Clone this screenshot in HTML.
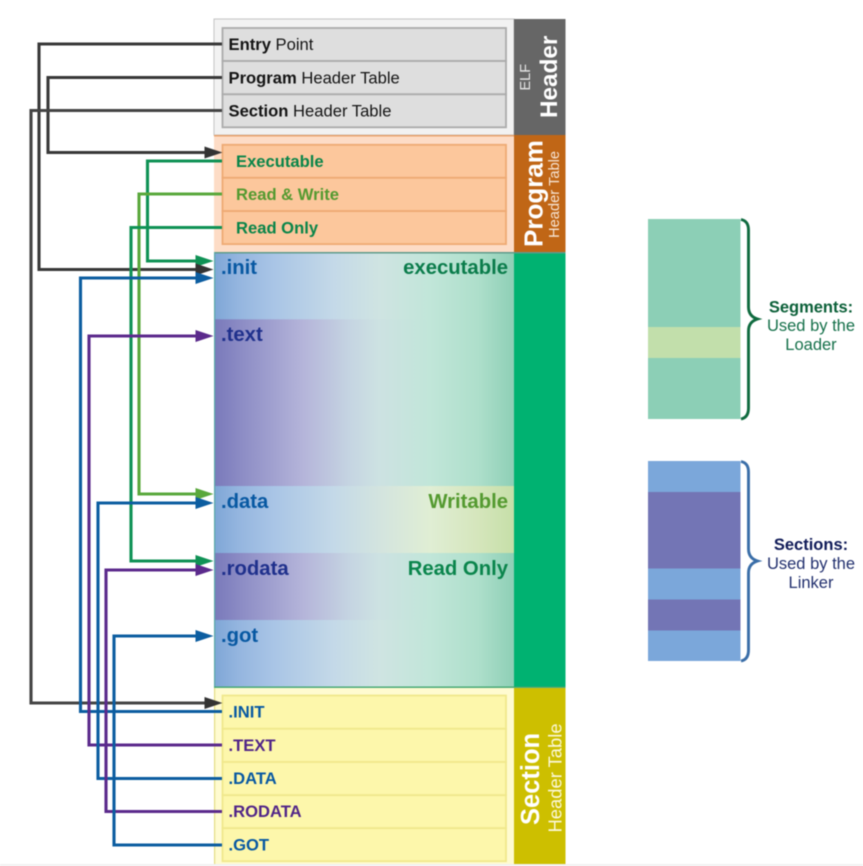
<!DOCTYPE html>
<html><head><meta charset="utf-8"><style>
html,body{margin:0;padding:0;background:#fff;width:863px;height:866px;overflow:hidden}
svg{display:block;filter:blur(.5px)}
text{font-family:"Liberation Sans",sans-serif}
.b{font-weight:bold}
</style></head><body>
<svg width="863" height="866" viewBox="0 0 863 866" xmlns="http://www.w3.org/2000/svg">
<defs>
<linearGradient id="blue"><stop offset="0" stop-color="#7ea6d6"/><stop offset=".08" stop-color="#94b5df"/><stop offset=".2" stop-color="#a9c5e6"/><stop offset=".4" stop-color="#c4d9e8"/><stop offset=".55" stop-color="#cfe4e2"/><stop offset=".72" stop-color="#c1e6d9"/><stop offset=".88" stop-color="#aedfcb"/><stop offset="1" stop-color="#8ecfb6"/></linearGradient>
<linearGradient id="purp"><stop offset="0" stop-color="#7979ba"/><stop offset=".1" stop-color="#8e8ec6"/><stop offset=".3" stop-color="#b5b5da"/><stop offset=".45" stop-color="#c5d4e2"/><stop offset=".55" stop-color="#cde2e2"/><stop offset=".72" stop-color="#c1e6d9"/><stop offset=".88" stop-color="#aedfcb"/><stop offset="1" stop-color="#8ecfb6"/></linearGradient>
<linearGradient id="writ"><stop offset="0" stop-color="#7ea6d6"/><stop offset=".08" stop-color="#94b5df"/><stop offset=".2" stop-color="#a9c5e6"/><stop offset=".4" stop-color="#c4d9e8"/><stop offset=".55" stop-color="#d3e4df"/><stop offset=".72" stop-color="#e0eed4"/><stop offset=".88" stop-color="#d5e6bc"/><stop offset="1" stop-color="#c6dfa8"/></linearGradient>
</defs>

<rect x="0" y="864" width="863" height="2" fill="#f1f1f1"/>

<!-- ELF -->
<rect x="214" y="19" width="300" height="116" fill="#f2f2f2" stroke="#c4c4c4" stroke-width="1"/>
<rect x="514" y="19" width="51.500" height="116" fill="#666666"/>
<g fill="#dedede" stroke="#ababab" stroke-width="1.800">
<rect x="222.500" y="28" width="283.500" height="33"/>
<rect x="222.500" y="61" width="283.500" height="33.300"/>
<rect x="222.500" y="94.300" width="283.500" height="33"/>
</g>
<g font-size="16.600" fill="#141414">
<text x="228.500" y="50"><tspan class="b">Entry</tspan> Point</text>
<text x="228.500" y="83.300"><tspan class="b">Program</tspan> Header Table</text>
<text x="228.500" y="116.500"><tspan class="b">Section</tspan> Header Table</text>
</g>

<!-- Program -->
<rect x="214" y="135" width="300" height="117" fill="#fddcc6"/>
<rect x="214" y="135" width="300" height="1.500" fill="#eaa36d"/>
<rect x="514" y="135" width="51.500" height="117" fill="#c06616"/>
<g fill="#fcc79c" stroke="#eeaa74" stroke-width="1.800">
<rect x="222.500" y="144.800" width="283.500" height="33"/>
<rect x="222.500" y="177.800" width="283.500" height="33.300"/>
<rect x="222.500" y="211.100" width="283.500" height="33"/>
</g>
<g font-size="16.600" font-weight="bold">
<text x="236" y="167" fill="#0a8549">Executable</text>
<text x="236" y="200" fill="#549a30">Read &amp; Write</text>
<text x="236" y="233.300" fill="#0a8549">Read Only</text>
</g>

<!-- Middle -->
<rect x="514" y="252" width="51.500" height="435.500" fill="#00b271"/>
<rect x="214" y="253" width="300" height="66.500" fill="url(#blue)"/>
<rect x="214" y="319.300" width="300" height="167" fill="url(#purp)"/>
<rect x="214" y="486" width="300" height="67" fill="url(#writ)"/>
<rect x="214" y="553" width="300" height="67" fill="url(#purp)"/>
<rect x="214" y="620" width="300" height="67" fill="url(#blue)"/>
<rect x="214" y="252" width="351.500" height="1.500" fill="#5e9b8b"/>
<rect x="214" y="252" width="1.200" height="435" fill="#58a9a6"/>
<rect x="214" y="686.500" width="351.500" height="1.400" fill="#3fa56d"/>
<g font-size="20.300" font-weight="bold">
<text x="221" y="274" fill="#0758a2">.init</text>
<text x="221" y="341" fill="#1f308c">.text</text>
<text x="221" y="508" fill="#0758a2">.data</text>
<text x="221" y="575" fill="#1f308c">.rodata</text>
<text x="221" y="642" fill="#0758a2">.got</text>
<text x="508" y="274" text-anchor="end" fill="#0a7c4b">executable</text>
<text x="508" y="508" text-anchor="end" fill="#549a30">Writable</text>
<text x="508" y="575" text-anchor="end" fill="#0a854c">Read Only</text>
</g>

<!-- Section -->
<rect x="214" y="688" width="300" height="176" fill="#fffbd0"/>
<rect x="214" y="688" width="1.200" height="176" fill="#e3de84"/>
<rect x="514" y="688" width="51.500" height="176" fill="#cdbf00"/>
<g fill="#fdf7ab" stroke="#f0e88c" stroke-width="1.800">
<rect x="222.500" y="695.500" width="283.500" height="33.300"/>
<rect x="222.500" y="728.800" width="283.500" height="33.200"/>
<rect x="222.500" y="762" width="283.500" height="33.200"/>
<rect x="222.500" y="795.200" width="283.500" height="33"/>
<rect x="222.500" y="828.200" width="283.500" height="33"/>
</g>
<g font-size="16.600" font-weight="bold">
<text x="228.500" y="717.500" fill="#0758a2">.INIT</text>
<text x="228.500" y="751" fill="#502488">.TEXT</text>
<text x="228.500" y="784" fill="#0758a2">.DATA</text>
<text x="228.500" y="817" fill="#502488">.RODATA</text>
<text x="228.500" y="850.500" fill="#0758a2">.GOT</text>
</g>

<!-- Sidebar labels -->
<g fill="#fff">
<text transform="translate(530,90.500) rotate(-90)" font-size="14.500" fill="#e6e6e6">ELF</text>
<text transform="translate(557,118) rotate(-90)" font-size="24.300" font-weight="bold">Header</text>
<text transform="translate(542.500,247) rotate(-90)" font-size="26" font-weight="bold">Program</text>
<text transform="translate(559,238) rotate(-90)" font-size="14.700" fill="#f6e4d4">Header Table</text>
<text transform="translate(539,825) rotate(-90)" font-size="25.500" font-weight="bold">Section</text>
<text transform="translate(561.500,832.500) rotate(-90)" font-size="18.400" fill="#fbf8d8">Header Table</text>
</g>

<!-- Connectors -->
<g fill="none" stroke-width="3.100">
<path d="M222 44H39V269.500H200" stroke="#383838"/>
<path d="M222 77.500H48V152.500H208" stroke="#383838"/>
<path d="M222 110.500H31V703H208" stroke="#444"/>
<path d="M222 161H147.500V261H200" stroke="#0f9255"/>
<path d="M222 194H139V494H200" stroke="#5aa83c"/>
<path d="M222 227.500H131V561H200" stroke="#0f9255"/>
<path d="M222 711.500H80.500V278H200" stroke="#0c5da0"/>
<path d="M222 745H89V336H200" stroke="#5b2a8c"/>
<path d="M222 778.500H98V503H200" stroke="#0c5da0"/>
<path d="M222 811.500H106V570H200" stroke="#5b2a8c"/>
<path d="M222 845H114V636H200" stroke="#0c5da0"/>
</g>
<polygon points="204.500,146.500 222.500,152.500 204.500,158.500" fill="#333"/>
<polygon points="204.500,697 222.500,703 204.500,709" fill="#333"/>
<polygon points="195.500,255 213.500,261 195.500,267" fill="#0f9255"/>
<polygon points="195.500,263.500 213.500,269.500 195.500,275.500" fill="#333"/>
<polygon points="195.500,272 213.500,278 195.500,284" fill="#0c5da0"/>
<polygon points="195.500,330 213.500,336 195.500,342" fill="#5b2a8c"/>
<polygon points="195.500,488 213.500,494 195.500,500" fill="#5aa83c"/>
<polygon points="195.500,497 213.500,503 195.500,509" fill="#0c5da0"/>
<polygon points="195.500,555 213.500,561 195.500,567" fill="#0f9255"/>
<polygon points="195.500,564 213.500,570 195.500,576" fill="#5b2a8c"/>
<polygon points="195.500,630 213.500,636 195.500,642" fill="#0c5da0"/>

<!-- Right: segments -->
<rect x="648" y="219" width="92.500" height="200" fill="#8ccfb6"/>
<rect x="648" y="327" width="92.500" height="31" fill="#c2dfab"/>
<path d="M741 219.500C746 220.500 748.500 224 748.500 230V307C748.500 313 751 317 757.500 319C751 321 748.500 325 748.500 331V408C748.500 414 746 418 741 419" fill="none" stroke="#0f6b3f" stroke-width="2.900"/>
<g text-anchor="middle" font-size="16.500" fill="#15704a">
<text x="811" y="312.500" font-weight="bold" fill="#0c6039">Segments:</text>
<text x="811" y="331">Used by the</text>
<text x="811" y="350">Loader</text>
</g>

<!-- Right: sections -->
<rect x="648" y="461" width="92.500" height="200" fill="#7ba7da"/>
<rect x="648" y="492" width="92.500" height="76.500" fill="#7375b5"/>
<rect x="648" y="599.500" width="92.500" height="31" fill="#7375b5"/>
<path d="M741 461.500C746 462.500 748.500 466 748.500 472V549C748.500 555 751 559 757.500 561C751 563 748.500 567 748.500 573V650C748.500 656 746 660 741 661" fill="none" stroke="#3a6ea8" stroke-width="2.900"/>
<g text-anchor="middle" font-size="16.500" fill="#22306e">
<text x="811" y="550" font-weight="bold" fill="#101b58">Sections:</text>
<text x="811" y="569">Used by the</text>
<text x="811" y="588">Linker</text>
</g>
</svg>
</body></html>
